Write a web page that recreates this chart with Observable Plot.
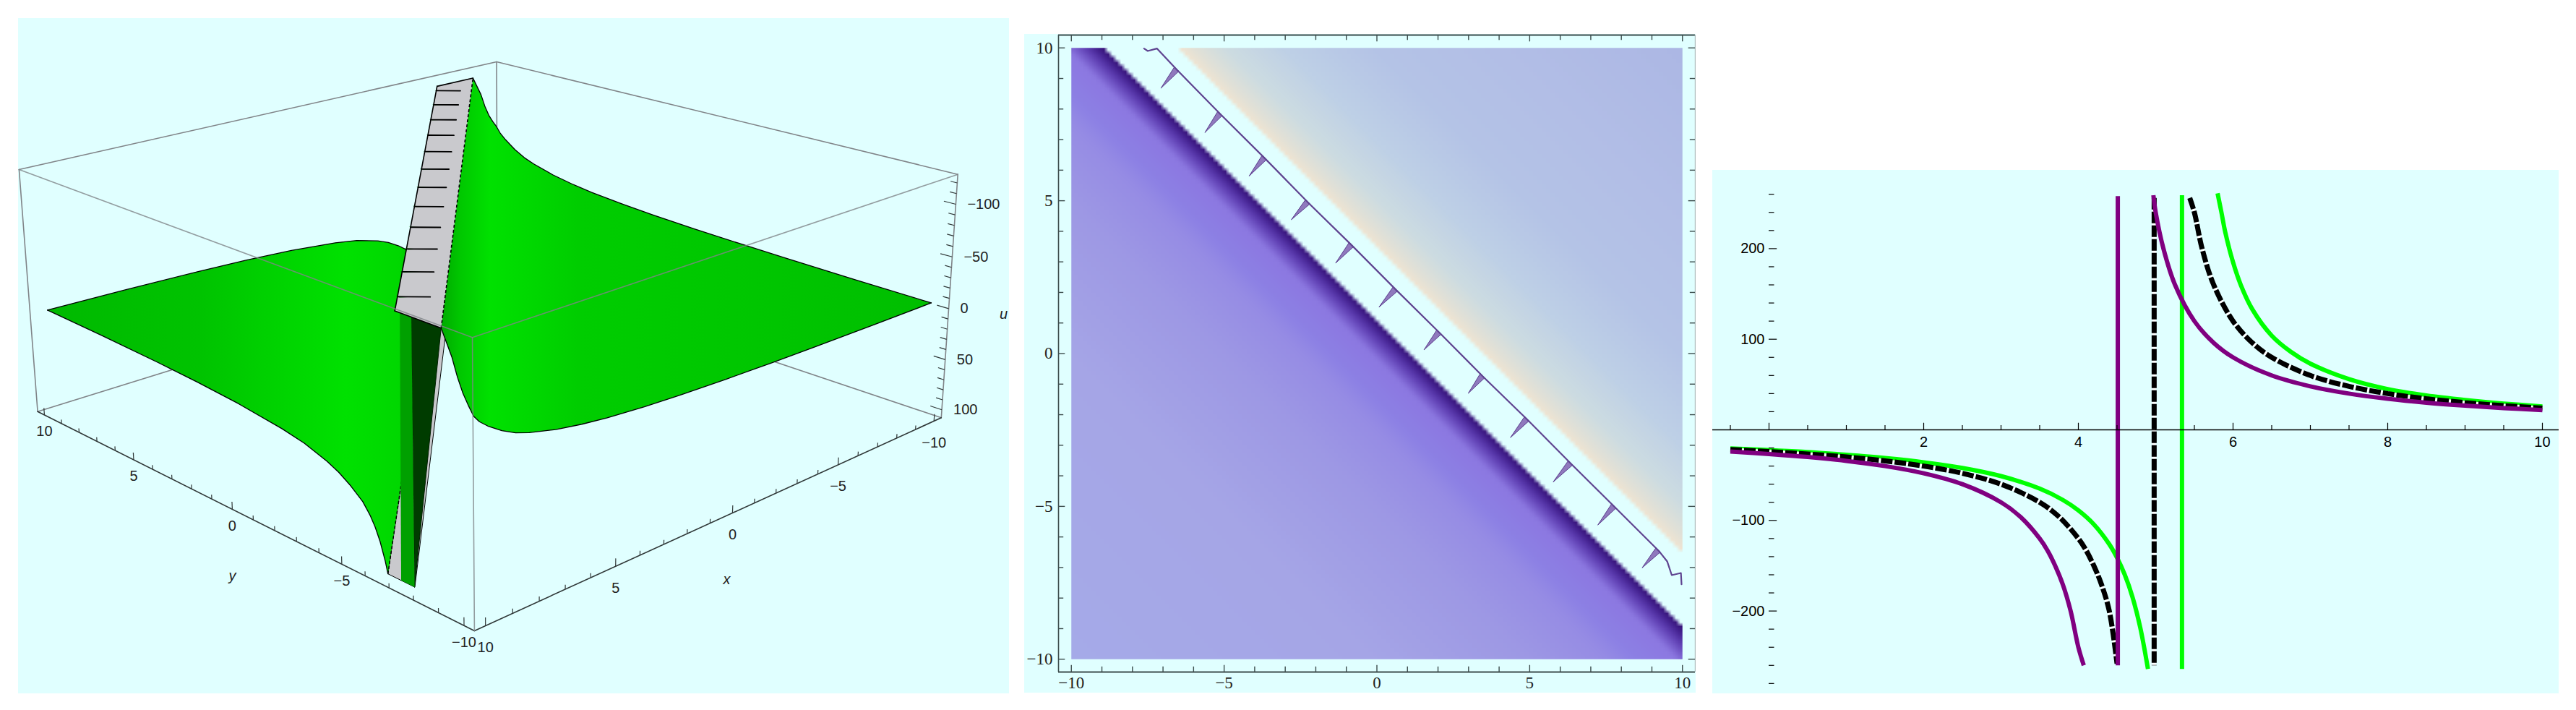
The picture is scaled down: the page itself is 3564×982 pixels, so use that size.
<!DOCTYPE html>
<html><head><meta charset="utf-8">
<script src="https://cdn.jsdelivr.net/npm/d3@7"></script>
<script src="https://cdn.jsdelivr.net/npm/@observablehq/plot@0.6"></script>
<style>html,body{margin:0;padding:0;background:#fff;width:3564px;height:982px;overflow:hidden}</style>
</head><body>
<script>
// ---------- Panel 1: surface u(x,y), depends on s = x + y
const sheetNegS = [-20,-17,-14,-12,-10,-8,-6.5,-5,-4,-3,-2,-1.5,-1,-0.5,-0.2,0,0.2,0.4,0.6,0.8,1.2];
const sheetNegU = [-5.5,-6.3,-7.5,-8.6,-10,-12,-14.1,-17,-20,-24,-30,-34,-40,-48,-54,-60,-67,-75,-86,-100,-120];
const sheetPosS = [3.5,3.6,3.8,4,4.2,4.5,5,5.5,6,7,8,10,12,14,17,20];
const sheetPosU = [105,95,80,69,61,52,43,36,31,24,20,15,12,10,8,6.7];
const capTopS = [1.2,3.0];
const capBottomS = [2.4,3.5];
const toothX = [-6.54,-5.12,-3.67,-2.25,-0.82,0.62,2.05,3.47,4.92,6.35,7.77,9.22];
const boxXY = 10.4, boxUTop = -128, boxUBottom = 108;
const axisTicks3d = [10,5,0,-5,-10];
const uTicks3d = [-100,-50,0,50,100];

// ---------- Panel 2: density over s = x + y
const densityLevels = [-20,-10,-5,-2.5,-1.5,-0.2,0.43,0.9,1.1,1.11,3.49,3.5,4,5,7,10,14,20];
const densityColors = ["#a5aae8","#a5a5e6","#9d98e4","#968ce4","#8c80e4","#8c78e1","#6040b4","#3c1a86","#380f72",
  "#e0ffff","#e0ffff","#f0e4d2","#e1e1d7","#cddce1","#bed0e6","#b4c3e6","#b2bee6","#acb7e4"];
const contourStartX = [-7.62,-7.5,-7.2];
const contourStartY = [9.98,9.9,9.98];
const contourBaseX = [-6.54,-5.12,-3.67,-2.25,-0.82,0.62,2.05,3.47,4.92,6.35,7.77,9.22];
const contourBaseY = [9.28,7.83,6.39,4.94,3.54,2.09,0.68,-0.75,-2.16,-3.6,-5.01,-6.45];
const contourTipX = [-7.07,-5.63,-4.18,-2.80,-1.35,0.07,1.54,2.99,4.37,5.77,7.23,8.68];
const contourTipY = [8.68,7.23,5.81,4.38,2.96,1.52,0.12,-1.30,-2.75,-4.20,-5.61,-7.01];
const contourEndX = [9.5,9.65,9.95,9.97];
const contourEndY = [-6.8,-7.25,-7.18,-7.55];
const densityTicks = d3.range(-10,11);
const densityLabels = [-10,-5,0,5,10];

// ---------- Panel 3: cross-sections
const greenLowX = [-0.5,0,0.5,1,1.5,2,2.5,3,3.5,3.8,4,4.2,4.4,4.5,4.6,4.7,4.8,4.9];
const greenLowY = [-20.5,-22.4,-24.5,-27.6,-31.2,-35.8,-42.1,-51.1,-64.9,-77.4,-88.9,-104.3,-126.3,-141.2,-160,-184.6,-218.2,-264];
const greenHighX = [5.8,5.85,5.9,6,6.1,6.25,6.5,6.75,7,7.5,8,8.5,9,9.5,10];
const greenHighY = [261,240,218,185,160,133,104,86,73,56,45,38,33,29,25.8];
const blackLowX = [-0.5,0,0.5,1,1.5,2,2.5,3,3.5,3.75,4,4.1,4.2,4.3,4.4,4.5];
const blackLowY = [-21.8,-24,-26.7,-30,-34.3,-40,-48,-60,-80,-96,-120,-133,-150,-171,-200,-258];
const blackHighX = [5.44,5.5,5.6,5.75,6,6.25,6.5,7,7.5,8,8.5,9,9.5,10];
const blackHighY = [256,240,200,160,120,96,80,60,48,40,34.3,30,26.7,24];
const purpleLowX = [-0.5,0,0.5,1,1.5,2,2.5,3,3.25,3.5,3.6,3.7,3.8,3.9,4,4.07];
const purpleLowY = [-24,-26.7,-30,-34.3,-40,-48,-60,-80,-96,-120,-133,-150,-171,-200,-240,-260];
const purpleHighX = [4.97,5,5.1,5.25,5.5,5.75,6,6.5,7,7.5,8,8.5,9,9.5,10];
const purpleHighY = [259,240,200,160,120,96,80,60,48,40,34.3,30,26.7,24,21.8];
const poleXs = {purple:4.51, black:4.98, green:5.34};
const sectionXTicks = d3.range(-0.5,10.5,0.5);
const sectionYTicks = d3.range(-280,280,20).filter(d=>d!==0);
const sectionXLabels = [2,4,6,8,10];
const sectionYLabels = [200,100,-100,-200];

const BG = "#E0FFFF", SANS = "Liberation Sans, Arial, sans-serif", SERIF = "Liberation Serif, Times, serif";
const label = d => String(d).replace("-","\u2212");
const zip = (a,b) => a.map((v,i)=>({x:v,y:b[i]}));

// ---------- camera for the 3D box: fitted to where the box corners sit
const d = boxXY, uT = boxUTop, uB = boxUBottom;
const fit = [
 [-d,d,uT,684,85],[d,d,uT,27,234],[-d,-d,uT,1326,241],[d,-d,uT,654,466],
 [d,-d,uB,656,875],[d,d,uB,51,571],[-d,-d,uB,1301,581],[-d,d,uB,690,370],
 [d,0,uB,320,702],[0,-d,uB,1012,703]
];
function solveCamera(){
  const rows=[],rhs=[];
  for(const [x,y,u,a0,b0] of fit){
    const X=x/10,Y=y/10,Z=u/100,a=a0/1000,b=b0/1000;
    rows.push([X,Y,Z,1,0,0,0,0,-a*X,-a*Y,-a*Z]);rhs.push(a);
    rows.push([0,0,0,0,X,Y,Z,1,-b*X,-b*Y,-b*Z]);rhs.push(b);
  }
  const n=11,A=d3.range(n).map(i=>d3.range(n+1).map(j=>{
    let s=0;for(let k=0;k<rows.length;k++)s+=rows[k][i]*(j<n?rows[k][j]:rhs[k]);return s;}));
  for(let i=0;i<n;i++){
    let m=i;for(let r=i+1;r<n;r++)if(Math.abs(A[r][i])>Math.abs(A[m][i]))m=r;
    [A[i],A[m]]=[A[m],A[i]];
    for(let r=0;r<n;r++)if(r!==i){const f=A[r][i]/A[i][i];for(let c=i;c<=n;c++)A[r][c]-=f*A[i][c];}
  }
  return A.map((r,i)=>r[n]/r[i]);
}
const P = solveCamera();
function project(x,y,u){
  const X=x/10,Y=y/10,Z=u/100,w=P[8]*X+P[9]*Y+P[10]*Z+1;
  return {px:1000*(P[0]*X+P[1]*Y+P[2]*Z+P[3])/w, py:1000*(P[4]*X+P[5]*Y+P[6]*Z+P[7])/w};
}
const pts = list => list.map(p=>project(...p));
const poly = (list,o) => Plot.line(pts(list),{x:"px",y:"py",curve:"linear-closed",...o});
const path = (list,o) => Plot.line(pts(list),{x:"px",y:"py",...o});

// sheet edges come straight from the read profiles
const neg = zip(sheetNegS,sheetNegU), posi = zip(sheetPosS,sheetPosU);
const rFront = [...neg.filter(p=>p.x<=0).map(p=>[p.x+10,-10,p.y]), ...neg.filter(p=>p.x>0).map(p=>[10,p.x-10,p.y])];
const rBack  = [...neg.filter(p=>p.x<=0).map(p=>[-10,p.x+10,p.y]), ...neg.filter(p=>p.x>0).map(p=>[p.x-10,10,p.y])];
const lFront = posi.map(p=>[10,p.x-10,p.y]);
const lBack  = posi.map(p=>[p.x-10,10,p.y]);
const cap = (s,u) => [[10,s[0]-10,u],[10,s[1]-10,u],[s[1]-10,10,u],[s[0]-10,10,u]];
const topUse = -120, botUse = 105;

const defs = () => {
  const g = d3.create("svg:defs");
  const add=(id,stops)=>{const l=g.append("linearGradient").attr("id",id);
    for(const [o,c] of stops) l.append("stop").attr("offset",o).attr("stop-color",c);};
  add("sheetL",[[0,"#00b900"],[0.4,"#00c300"],[0.78,"#00e100"],[0.92,"#00d700"],[1,"#00a800"]]);
  add("sheetR",[[0,"#00aa00"],[0.04,"#00c800"],[0.1,"#00e100"],[0.28,"#00cd00"],[0.55,"#00c800"],[1,"#00be00"]]);
  return g.node();
};
const boxLine = (a,b,o) => path([a,b],{stroke:"#808488",strokeWidth:1.6,...o});
const C = {tbk:[-d,d,uT],tl:[d,d,uT],tr:[-d,-d,uT],tf:[d,-d,uT],bbk:[-d,d,uB],bl:[d,d,uB],br:[-d,-d,uB],bf:[d,-d,uB]};
const yMinor=d3.range(-10,11), xMinor=d3.range(-10,11), uMinor=d3.range(-120,110,10);
const tickLink = (rows,o)=>Plot.link(rows,{x1:r=>r[0].px,y1:r=>r[0].py,x2:r=>r[1].px,y2:r=>r[1].py,stroke:"#303838",strokeWidth:1.2,...o});
const capEdge = capTopS[1];
const dashed = {stroke:"#000",strokeLinecap:"butt",strokeLinejoin:"miter"};

const panel1 = Plot.plot({
  width:1371,height:934,margin:0,
  x:{domain:[25,1396],range:[0,1371],axis:null},
  y:{domain:[25,959],range:[0,934],axis:null},
  style:{position:"absolute",left:"25px",top:"25px",background:BG,overflow:"visible"},
  marks:[
    defs,
    boxLine(C.tbk,C.tl),boxLine(C.tbk,C.tr),boxLine(C.tbk,C.bbk),
    boxLine(C.bbk,C.bl),boxLine(C.bbk,C.br),
    boxLine(C.tl,C.bl),boxLine(C.tr,C.br),
    boxLine(C.bl,C.bf,{stroke:"#303838"}),boxLine(C.br,C.bf,{stroke:"#303838"}),
    poly(cap(capBottomS,botUse),{fill:"#c9c9cd",stroke:"#000",strokeWidth:1}),
    poly([...lFront,...lBack.slice().reverse()],{fill:"url(#sheetL)"}),
    path(lFront,{stroke:"#000",strokeWidth:1.3}),path(lBack,{stroke:"#000",strokeWidth:1.3}),
    path([lFront[0],lBack[0]],{...dashed,strokeWidth:1.5,strokeDasharray:"4 3"}),
    poly([[10,-7.65,topUse],[10,-8.8,topUse],[10,-7.6,botUse]],{fill:"#003c00",stroke:"#001e00",strokeWidth:1}),
    poly([[10,-7.2,topUse],[10,-7.65,topUse],[10,-7.6,botUse],[10,-7.05,botUse]],{fill:"#00a000"}),
    poly(cap(capTopS,topUse),{fill:"#c9c9cd"}),
    path([[10,capEdge-10,topUse],[capEdge-10,10,topUse]],{stroke:"#000",strokeWidth:1.6}),
    path([[10,capTopS[0]-10,topUse],[10,capEdge-10,topUse]],{stroke:"#000",strokeWidth:1.6}),
    path([[capTopS[0]-10,10,topUse],[capEdge-10,10,topUse]],{stroke:"#000",strokeWidth:1.6}),
    ...toothX.map(x=>poly([[x,capEdge-x+0.08,topUse],[x-0.35,capEdge-x-0.35,topUse],[x,capEdge-x-0.08,topUse]],{fill:"#007a00"})),
    ...toothX.map(x=>path([[x,capEdge-x,topUse],[x-0.62,capEdge-x-0.62,topUse]],{stroke:"#000",strokeWidth:1.8})),
    poly([...rFront,...rBack.slice().reverse()],{fill:"url(#sheetR)"}),
    path(rFront,{stroke:"#000",strokeWidth:1.3}),path(rBack,{stroke:"#000",strokeWidth:1.3}),
    path([rFront[rFront.length-1],rBack[rBack.length-1]],{...dashed,strokeWidth:1.6,strokeDasharray:"4 3"}),
    boxLine(C.tl,C.tf,{strokeOpacity:0.8}),boxLine(C.tr,C.tf,{strokeOpacity:0.8}),boxLine(C.tf,C.bf,{strokeOpacity:0.8}),
    tickLink(yMinor.map(y=>[project(d,y,uB),project(d,y,uB-(y%5?4:7))])),
    tickLink(xMinor.map(x=>[project(x,-d,uB),project(x,-d,uB-(x%5?4:7))])),
    tickLink(uMinor.map(u=>[project(-d,-d,u),project(-d,-d+(u%50?0.25:0.45),u)])),
    Plot.text(axisTicks3d,{x:t=>project(d,t,uB).px,y:t=>project(d,t,uB).py,text:label,dy:23,fontSize:20,fontFamily:SANS,fill:"#222"}),
    Plot.text(axisTicks3d,{x:t=>project(t,-d,uB).px,y:t=>project(t,-d,uB).py,text:label,dy:30,fontSize:20,fontFamily:SANS,fill:"#222"}),
    Plot.text(uTicks3d,{x:t=>project(-d,-d,t).px,y:t=>project(-d,-d,t).py,text:label,dx:16,textAnchor:"start",fontSize:20,fontFamily:SANS,fill:"#222"}),
    Plot.text(["y"],{x:()=>project(d,0,uB).px,y:()=>project(d,0,uB).py,dy:92,text:d=>d,fontSize:20,fontStyle:"italic",fontFamily:SANS,fill:"#222"}),
    Plot.text(["x"],{x:()=>project(0,-d,uB).px,y:()=>project(0,-d,uB).py,dx:-8,dy:92,text:d=>d,fontSize:20,fontStyle:"italic",fontFamily:SANS,fill:"#222"}),
    Plot.text(["u"],{x:()=>project(-d,-d,0).px,y:()=>project(-d,-d,0).py,dx:76,dy:8,text:d=>d,fontSize:20,fontStyle:"italic",fontFamily:SANS,fill:"#222"})
  ]
});

// ---------- Panel 2
const F = 10.42;
const contourLine = [...zip(contourStartX,contourStartY),...zip(contourBaseX,contourBaseY),...zip(contourEndX,contourEndY)];
const teeth = contourBaseX.flatMap((bx,i)=>[
  {t:i,x:bx-0.09,y:contourBaseY[i]+0.09},
  {t:i,x:contourTipX[i],y:contourTipY[i]},
  {t:i,x:bx+0.05,y:contourBaseY[i]-0.05}]);
const frameInk = "#3c4c4c";
const major = t => t%5===0;
const panel2 = Plot.plot({
  width:929,height:911,marginLeft:47,marginRight:1,marginTop:1,marginBottom:29,
  x:{domain:[-F,F],axis:null},
  y:{domain:[-F,F],axis:null},
  color:{type:"linear",domain:densityLevels,range:densityColors},
  style:{position:"absolute",left:"1417px",top:"47px",background:BG},
  marks:[
    Plot.raster({fill:(x,y)=>x+y,x1:-10,x2:10,y1:-10,y2:10,pixelSize:6}),
    Plot.line(teeth,{x:"x",y:"y",z:"t",fill:"#8f79bd",stroke:"#5a3c8c",strokeWidth:1,curve:"linear-closed"}),
    Plot.line(contourLine,{x:"x",y:"y",stroke:"#5f4490",strokeWidth:2.2}),
    Plot.ruleY([-F,F],{stroke:frameInk,strokeWidth:2}),
    Plot.ruleX([-F],{stroke:frameInk,strokeWidth:1.6}),
    Plot.ruleX([F],{stroke:"#aebcbc",strokeWidth:1.4}),
    Plot.ruleX(densityTicks,{y1:-F,y2:t=>-F+(major(t)?0.22:0.17),stroke:frameInk,strokeWidth:1.4}),
    Plot.ruleX(densityTicks,{y1:F,y2:t=>F-(major(t)?0.22:0.17),stroke:frameInk,strokeWidth:1.4}),
    Plot.ruleY(densityTicks,{x1:-F,x2:t=>-F+(major(t)?0.22:0.17),stroke:frameInk,strokeWidth:1.4}),
    Plot.ruleY(densityTicks,{x1:F,x2:t=>F-(major(t)?0.22:0.17),stroke:frameInk,strokeWidth:1.4}),
    Plot.text(densityLabels,{x:t=>t,y:()=>-F,dy:15,text:label,fontSize:23,fontFamily:SERIF,fill:"#222"}),
    Plot.text(densityLabels,{x:()=>-F,y:t=>t,dx:-8,textAnchor:"end",text:label,fontSize:23,fontFamily:SERIF,fill:"#222"})
  ]
});

// ---------- Panel 3
const poleLine = (x,top,bot,o)=>Plot.line(zip([x,x],[top,bot]),{x:"x",y:"y",...o});
const curve = (rows,o)=>Plot.line(rows,{x:"x",y:"y",strokeWidth:6,curve:"catmull-rom",strokeLinecap:"butt",...o});
const dash = {strokeDasharray:"16 3",stroke:"#000",strokeWidth:7,strokeLinecap:"butt",strokeLinejoin:"miter"};
const under = {stroke:"#fff",strokeWidth:5,strokeLinecap:"butt"};
const panel3 = Plot.plot({
  width:1171,height:724,margin:0,
  x:{domain:[-0.729,10.215],axis:null},
  y:{domain:[-291.3,286.5],axis:null},
  style:{position:"absolute",left:"2369px",top:"235px",background:BG},
  marks:[
    curve(zip(greenLowX,greenLowY),{stroke:"#00ff00"}),
    curve(zip(greenHighX,greenHighY),{stroke:"#00ff00"}),
    poleLine(poleXs.green,259,-264,{stroke:"#00ff00",strokeWidth:6,strokeLinecap:"butt"}),
    curve(zip(blackLowX,blackLowY),under),curve(zip(blackHighX,blackHighY),under),
    poleLine(poleXs.black,256,-260,under),
    curve(zip(blackLowX,blackLowY),dash),curve(zip(blackHighX,blackHighY),dash),
    poleLine(poleXs.black,256,-260,dash),
    curve(zip(purpleLowX,purpleLowY),{stroke:"#800080"}),
    curve(zip(purpleHighX,purpleHighY),{stroke:"#800080"}),
    poleLine(poleXs.purple,258,-260,{stroke:"#800080",strokeWidth:6,strokeLinecap:"butt"}),
    Plot.ruleY([0],{stroke:"#000",strokeWidth:1.6}),
    Plot.ruleX(sectionXTicks,{y1:0,y2:t=>(t%2===0?7.4:4.8),stroke:"#000",strokeWidth:1.2}),
    Plot.ruleY(sectionYTicks,{x1:0,x2:t=>(t%100===0?0.105:0.07),stroke:"#000",strokeWidth:1.2}),
    Plot.text(sectionXLabels,{x:t=>t,y:()=>0,dy:17,text:label,fontSize:20,fontFamily:SANS,fill:"#000"}),
    Plot.text(sectionYLabels,{x:()=>0,y:t=>t,dx:-6,textAnchor:"end",text:label,fontSize:20,fontFamily:SANS,fill:"#000"})
  ]
});
document.body.append(panel1,panel2,panel3);
</script>
</body></html>
